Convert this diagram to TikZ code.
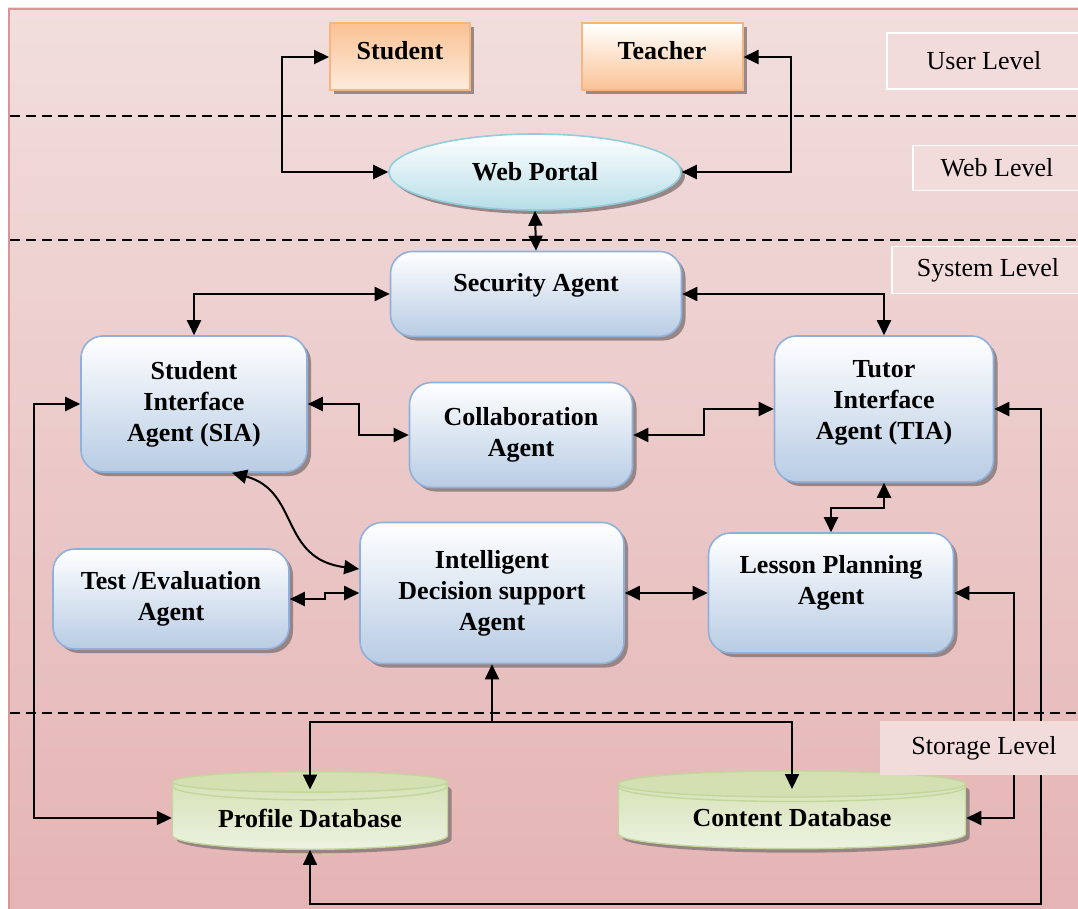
\documentclass[tikz,border=0pt]{standalone}
\usepackage{fontspec}
\setmainfont{Liberation Serif}
\usetikzlibrary{arrows.meta,shapes.geometric,shadows}

\definecolor{bgtop}{HTML}{F2DEDE}
\definecolor{bgbottom}{HTML}{E5B4B4}
\definecolor{framecol}{HTML}{D99694}
\definecolor{agentline}{HTML}{8EB0DA}
\definecolor{agentblue}{HTML}{B8CCE4}
\definecolor{userline}{HTML}{F9B57E}
\definecolor{userdark}{HTML}{FAC294}
\definecolor{userlight}{HTML}{FDEBDD}
\definecolor{portalline}{HTML}{92CDDC}
\definecolor{portalblue}{HTML}{B7DEE8}
\definecolor{dbline}{HTML}{C3D69B}
\definecolor{dbbody}{HTML}{ECF2E0}
\definecolor{dbend}{HTML}{D2E0B2}
\definecolor{levelfill}{HTML}{F2DCDB}
\definecolor{shadowcol}{HTML}{8A7A7A}

\tikzset{
  boxfont/.style={font=\fontsize{26}{31}\selectfont\bfseries},
  shade/.style={drop shadow={shadow xshift=4pt, shadow yshift=-4pt, fill=shadowcol, opacity=.85}},
  agent/.style={boxfont, shade, rounded corners=22pt, draw=agentline, line width=1.6pt,
    top color=white, bottom color=agentblue, align=center, inner sep=0pt},
  person/.style={boxfont, shade, draw=userline, line width=2pt, align=center,
    inner sep=0pt, minimum width=140pt, minimum height=67pt, text depth=14pt},
  portal/.style={boxfont, shade, ellipse, draw=portalline, line width=1.6pt,
    top color=white, bottom color=portalblue, inner sep=0pt},
  db/.style={boxfont, shade, cylinder, shape border rotate=90, aspect=0.15,
    draw=dbline, line width=1.4pt, top color=dbend, bottom color=dbbody, inner sep=0pt},
  dbtop/.style={draw=dbline, line width=1.4pt, fill=dbend},
  level/.style={font=\fontsize{26}{31}\selectfont, draw=white, line width=1.2pt,
    fill=levelfill, inner sep=0pt},
  levelline/.style={line width=2.8pt, dash pattern=on 10pt off 6pt},
  link/.style={line width=2pt, >={Triangle[length=15pt,width=14pt]}}
}

\begin{document}
\begin{tikzpicture}[x=1pt,y=-1pt]
\useasboundingbox (0,0) rectangle (1078,909);
\fill[top color=bgtop, bottom color=bgbottom] (8,8) rectangle (1078,909);
\draw[framecol, line width=1.5pt] (9,909) -- (9,9) -- (1078,9);
\foreach \y in {116,240,713}
  \draw[levelline] (10,\y) -- (1078,\y);

% users and web
\node[person, top color=userdark, bottom color=userlight] (student) at (400,57) {Student};
\node[person, minimum width=161pt, top color=white, bottom color=userdark] (teacher) at (662,57) {Teacher};
\node[portal, minimum width=292pt, minimum height=76pt] (portal) at (535,172) {Web Portal};

% agents
\node[agent, minimum width=291pt, minimum height=85pt, text depth=24pt] (security) at (536,294) {Security Agent};
\node[agent, minimum width=226pt, minimum height=136pt] (sia) at (194,404) {Student\\Interface\\Agent (SIA)};
\node[agent, minimum width=219pt, minimum height=146pt, text depth=18pt] (tia) at (884,409) {Tutor\\Interface\\Agent (TIA)};
\node[agent, minimum width=223pt, minimum height=105pt] (collab) at (521,435) {Collaboration\\Agent};
\node[agent, minimum width=236pt, minimum height=100pt] (test) at (171,599) {Test /Evaluation\\Agent};
\node[agent, minimum width=264pt, minimum height=141pt] (idsa) at (492,593) {Intelligent\\Decision support\\Agent};
\node[agent, minimum width=245pt, minimum height=120pt, text depth=26pt] (lesson) at (831,593) {Lesson Planning\\Agent};

% storage
\node[db, minimum width=275pt, minimum height=77pt] (profile) at (310,818) {Profile Database};
\node[db, minimum width=347pt, minimum height=77pt] (content) at (792,818) {Content Database};
\draw[dbtop] ([yshift=-10.3pt]profile.north) ellipse [x radius=137.5pt, y radius=10.3pt];
\draw[dbtop] ([yshift=-13pt]content.north) ellipse [x radius=173.5pt, y radius=13pt];

% connectors
\draw[link,<->] (student.west) -- ++(-47,0) |- (portal.west);
\draw[link,<->] (teacher.east) -- ++(47,0) |- (portal.east);
\draw[link,<->] (portal.south) -- (security.north);
\draw[link,<->] (security.west) -| (sia.north);
\draw[link,<->] (security.east) -| (tia.north);
\draw[link,<->] (sia.east) -- ++(51,0) |- (collab.west);
\draw[link,<->] (collab.east) -- ++(71,0) |- (tia.west);
\draw[link,<->] (tia.south) -- ++(0,25) -| (lesson.north);
\draw[link,<->] (idsa.east) -- (lesson.west);
\draw[link,<->] (test.east) -- ++(35,0) |- (idsa.west);
\draw[link,<->] ([xshift=38pt]sia.south) .. controls +(68,18) and +(-80,-10) .. ([yshift=24pt]idsa.west);
\coordinate (split) at ([yshift=-58pt]idsa.south);
\draw[link,<-] (idsa.south) -- (split);
\draw[link,->] (split) -| ([yshift=-18pt]profile.north);
\draw[link,->] (split) -| ([yshift=-18pt]content.north);
\draw[link,<->] (sia.west) -- ++(-46,0) |- (profile.west);
\draw[link,<->] (content.east) -- ++(48,0) |- (lesson.east);
\coordinate (loopcorner) at (1041,904);
\draw[link,<->] (tia.east) -| (loopcorner) -| (profile.south);

% level labels
\node[level, minimum width=194pt, minimum height=56pt] (userlevel) at (984,61) {User Level};
\node[level, minimum width=168pt, minimum height=45pt] (weblevel) at (997,168) {Web Level};
\node[level, minimum width=192pt, minimum height=47pt] (systemlevel) at (988,270) {System Level};
\node[level, draw=none, minimum width=208pt, minimum height=54pt] (storagelevel) at (984,748) {Storage Level};
\end{tikzpicture}
\end{document}
